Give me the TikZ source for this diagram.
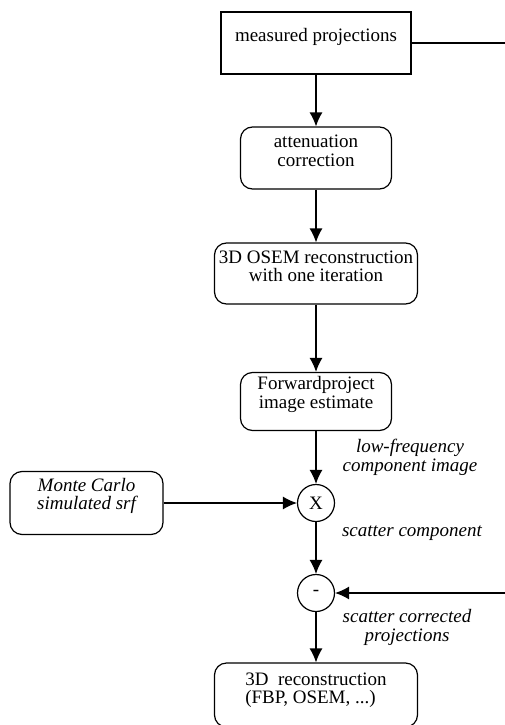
\documentclass[tikz,border=0pt]{standalone}
\usepackage{fontspec}
\setmainfont{Liberation Serif}
\usetikzlibrary{arrows.meta}

\tikzset{
    blockbox/.style={draw, line width=1.2pt, inner sep=0pt},
    roundbox/.style={blockbox, rounded corners=12pt},
    boxtext/.style={align=center, inner sep=0pt, yshift=7pt},
    opcircle/.style={draw, line width=1.2pt, circle, minimum size=37pt, inner sep=0pt},
    annot/.style={align=center, font=\fontsize{19}{19}\selectfont\itshape}
}

\begin{document}
\begin{tikzpicture}[
    x=1pt, y=-1pt,
    >={Latex[length=14pt,width=13pt]},
    line width=1.2pt,
    font=\fontsize{19}{18.5}\selectfont
]

    % Frame of the page
    \useasboundingbox (0,0) rectangle (505,725);

    % Feed lines that leave the page on the right
    \coordinate (outR) at (505,43);
    \coordinate (inR)  at (505,593);

    % Main chain of blocks (outline first, text lifted a little above centre)
    \node[blockbox, minimum width=190pt, minimum height=62pt] (meas) at (316,43) {};
    \node[boxtext, yshift=-1pt] (measT) at (meas) {measured projections};

    \node[roundbox, minimum width=151pt, minimum height=62pt] (att) at (316,158) {};
    \node[boxtext] (attT) at (att) {attenuation\\correction};

    \node[roundbox, minimum width=203pt, minimum height=61pt] (osem) at (316,273.5) {};
    \node[boxtext] (osemT) at (osem) {3D OSEM reconstruction\\with one iteration};

    \node[roundbox, minimum width=151pt, minimum height=58pt] (fwd) at (316,401.5) {};
    \node[boxtext] (fwdT) at (fwd) {Forwardproject\\image estimate};

    % Operators
    \node[opcircle] (mult)  at (316,503) {X};
    \node[opcircle] (minus) at (316,593) {-};

    % Scatter response function
    \node[roundbox, minimum width=153pt, minimum height=63pt] (mc) at (86.5,503) {};
    \node[boxtext, font=\fontsize{19}{18.5}\selectfont\itshape] (mcT) at (mc) {Monte Carlo\\simulated srf};

    % Final reconstruction
    \node[roundbox, minimum width=203pt, minimum height=64pt] (rec) at (316,695) {};
    \node[boxtext, align=left, yshift=-2pt] (recT) at (rec) {3D\ \ reconstruction\\(FBP, OSEM, ...)};

    % Connectors
    \draw[->] (meas) -- (att);
    \draw[->] (att) -- (osem);
    \draw[->] (osem) -- (fwd);
    \draw[->] (fwd) -- (mult);
    \draw[->] (mc) -- (mult);
    \draw[->] (mult) -- (minus);
    \draw[->] (minus) -- (rec);
    \draw (meas.east) -- (outR);
    \draw[->] (inR) -- (minus);

    % Labels on the connectors
    \node[annot] (lowf) at (410,457) {low-frequency\\component image};
    \node[annot] (scat) at (412,533) {scatter component};
    \node[annot] (corr) at (407,627) {scatter corrected\\projections};

\end{tikzpicture}
\end{document}
